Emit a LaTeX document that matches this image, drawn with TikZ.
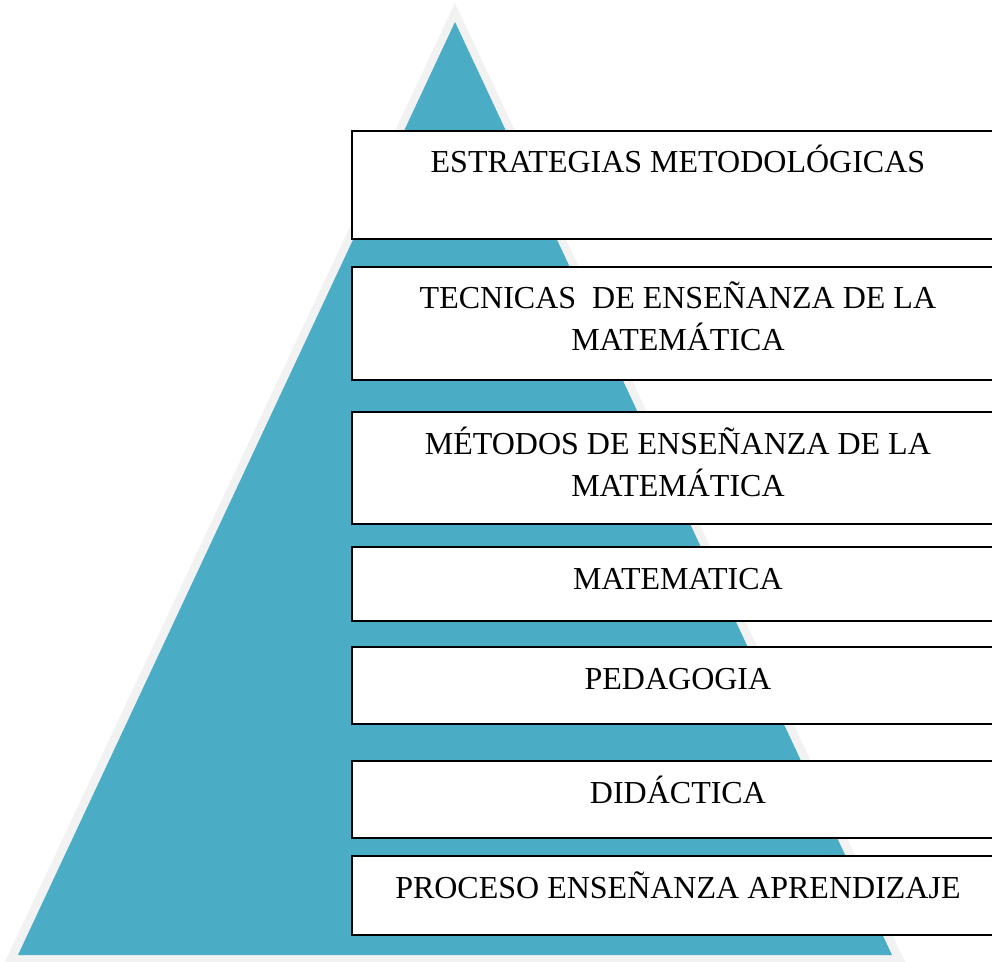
\documentclass[tikz,border=0pt]{standalone}
\usepackage{fontspec}
\setmainfont{Liberation Serif}
\usetikzlibrary{positioning}
\definecolor{pyramid}{HTML}{4BACC6}
\definecolor{rim}{HTML}{F2F2F2}
\newcommand\px{0.75pt}

\begin{document}
\begin{tikzpicture}[x=\px,y=-\px,
    stage/.style={rectangle,draw=black,line width=1.4pt,fill=white,anchor=north west,minimum width=652*\px,inner sep=0pt},
    caption/.style={font=\fontsize{24}{31.5}\selectfont,align=center,inner sep=0pt,anchor=base}
    ]
    \useasboundingbox (0,0) rectangle (992,962);
    \clip (0,0) rectangle (992,962);

    % pyramid with its pale rim
    \fill[rim] (455,3) -- (907,966) -- (3,966) -- cycle;
    \fill[pyramid] (455,22) -- (892,955) -- (18,955) -- cycle;

    \node[stage,minimum height=108*\px] (estrategias) at (351,130) {};
    \node[stage,minimum height=113*\px] (tecnicas) at (351,266) {};
    \node[stage,minimum height=112*\px] (metodos) at (351,411) {};
    \node[stage,minimum height=74*\px] (matematica) at (351,546) {};
    \node[stage,minimum height=77*\px] (pedagogia) at (351,646) {};
    \node[stage,minimum height=77*\px] (didactica) at (351,760) {};
    \node[stage,minimum height=79*\px] (proceso) at (351,855) {};

    % text sits at the top of each box (base = last line)
    \node[caption] (estrategias-t) at ([yshift=-43*\px]estrategias.north) {ESTRATEGIAS METODOLÓGICAS};
    \node[caption] (tecnicas-t) at ([yshift=-85*\px]tecnicas.north) {TECNICAS~ DE ENSEÑANZA DE LA\\MATEMÁTICA};
    \node[caption] (metodos-t) at ([yshift=-85*\px]metodos.north) {MÉTODOS DE ENSEÑANZA DE LA\\MATEMÁTICA};
    \node[caption] (matematica-t) at ([yshift=-43*\px]matematica.north) {MATEMATICA};
    \node[caption] (pedagogia-t) at ([yshift=-43*\px]pedagogia.north) {PEDAGOGIA};
    \node[caption] (didactica-t) at ([yshift=-43*\px]didactica.north) {DIDÁCTICA};
    \node[caption] (proceso-t) at ([yshift=-43*\px]proceso.north) {PROCESO ENSEÑANZA APRENDIZAJE};

  \end{tikzpicture}
\end{document}
